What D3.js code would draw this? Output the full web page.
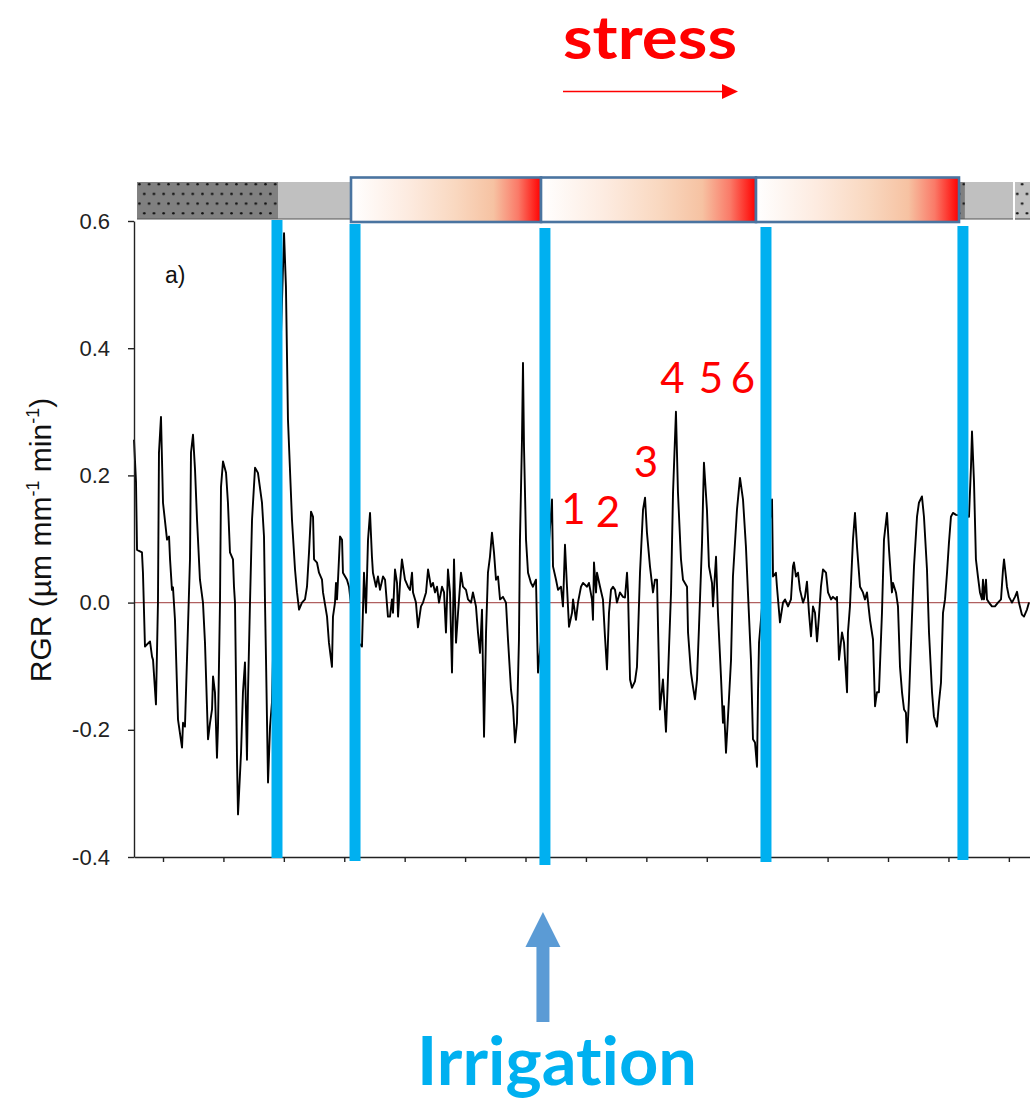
<!DOCTYPE html>
<html><head><meta charset="utf-8">
<script src="https://cdn.jsdelivr.net/npm/d3@7"></script>
<style>body{margin:0;background:#fff} text{font-variant-ligatures:none;font-feature-settings:"liga" 0}</style>
</head><body>
<svg id="chart" width="1030" height="1098"></svg>
<script>
// RGR time series: [hours, RGR (µm mm-1 min-1)]
const rgrSeries = [
[-2.88,0.256],[-2.68,0.189],[-2.58,0.083],[-2.09,0.079],[-1.99,0.047],[-1.79,-0.069],[-1.29,-0.061],[-1.09,-0.085],[-0.99,-0.090],[-0.70,-0.160],
[-0.50,0],[-0.40,0.236],[-0.20,0.292],[0,0.157],[0.40,0.099],[0.60,0.104],[0.70,0.068],[0.89,0.020],[0.99,0.024],[1.19,-0.027],
[1.49,-0.184],[1.89,-0.228],[1.99,-0.189],[2.18,-0.195],[2.48,-0.038],[2.68,0.068],[2.78,0.236],[2.98,0.264],[3.18,0.209],[3.38,0.130],
[3.67,0.036],[3.97,0],[4.17,-0.063],[4.47,-0.215],[4.67,-0.189],[4.87,-0.168],[4.97,-0.116],[5.16,-0.141],[5.36,-0.244],[5.46,-0.195],
[5.66,0],[5.76,0.182],[5.96,0.222],[6.26,0.204],[6.45,0.157],[6.65,0.079],[6.95,0.068],[7.05,0.025],[7.15,0],[7.35,-0.247],
[7.45,-0.333],[7.75,-0.236],[7.94,-0.141],[8.14,-0.094],[8.34,-0.247],[8.44,-0.141],[8.64,0],[8.84,0.130],[9.14,0.212],[9.43,0.204],
[9.83,0.157],[10.03,0.104],[10.13,0],[10.23,-0.090],[10.43,-0.283],[10.63,-0.195],[10.82,-0.157],[11.52,0.319],[12.02,0.581],[12.21,0.496],
[12.41,0.288],[12.81,0.130],[13.11,0.052],[13.31,0.016],[13.51,-0.011],[13.80,0],[14.10,0.005],[14.30,0.025],[14.50,0.079],[14.70,0.143],
[14.90,0.135],[15.00,0.068],[15.29,0.063],[15.49,0.047],[15.79,0.036],[15.89,0.016],[16.29,-0.022],[16.48,-0.063],[16.78,-0.101],[16.88,-0.022],
[17.08,0],[17.18,0.031],[17.28,0.005],[17.38,0.036],[17.58,0.104],[17.78,0.099],[17.87,0.047],[18.27,0.036],[18.47,0.025],[19.07,-0.058],
[19.76,-0.069],[19.96,0.047],[20.16,-0.016],[20.36,0.099],[20.56,0.141],[20.75,0.072],[20.85,0.047],[21.15,0.025],[21.35,0.041],[21.55,0.020],
[21.85,0.041],[22.05,0.036],[22.34,-0.022],[22.54,-0.022],[22.74,0.005],[22.84,-0.016],[23.04,0.052],[23.24,0.031],[23.34,-0.022],[23.54,0.031],
[23.73,0.068],[24.03,0.036],[24.33,0.025],[24.53,0.020],[24.73,0.047],[24.83,0.016],[25.12,0],[25.32,-0.039],[25.62,-0.006],[25.82,0],
[26.12,0.016],[26.32,0.052],[26.61,0.025],[26.81,0.031],[27.01,0.016],[27.21,0.025],[27.41,0],[27.71,0.025],[27.91,0.016],[28.10,-0.047],
[28.30,0.052],[28.50,0.016],[28.70,-0.110],[28.90,0.068],[29.10,-0.063],[29.30,-0.016],[29.59,0.047],[29.79,0.025],[30.09,0.020],[30.29,0.005],
[30.59,0],[30.78,0.016],[31.08,-0.006],[31.28,-0.047],[31.48,-0.079],[31.68,-0.011],[31.88,-0.211],[32.08,-0.047],[32.27,0.047],[32.47,0.072],
[32.67,0.110],[32.87,0.079],[33.07,0.036],[33.27,0.041],[33.47,0.005],[33.76,0.009],[34.06,0],[34.26,-0.058],[34.56,-0.137],[34.76,-0.163],
[34.96,-0.220],[35.15,-0.189],[35.35,-0.058],[35.45,0.099],[35.65,0.256],[35.75,0.377],[35.85,0.245],[36.05,0.099],[36.25,0.047],[36.54,0.031],
[36.74,0.025],[37.04,0.036],[37.24,-0.110],[37.93,0.005],[38.63,0.162],[38.73,0.057],[39.03,0.036],[39.23,0.020],[39.52,0.025],[39.72,-0.006],
[39.82,0.041],[39.92,0.091],[40.12,0.025],[40.32,-0.038],[40.62,-0.016],[40.72,0.005],[41.01,-0.027],[41.21,0],[41.51,0.025],[41.71,0.031],
[42.11,0.025],[42.30,0.031],[42.60,0.005],[42.70,-0.027],[42.80,0.063],[43.00,0.016],[43.10,0.047],[43.40,0.025],[43.69,0.005],[43.89,-0.053],
[44.09,-0.105],[44.29,-0.016],[44.49,0.020],[44.69,0.025],[44.89,0.020],[45.08,0],[45.38,0.016],[45.68,0.009],[45.88,0.008],[46.08,0.047],
[46.18,0.016],[46.38,-0.121],[46.57,-0.134],[46.87,-0.124],[47.07,-0.101],[47.37,0.047],[47.67,0.146],[47.87,0.165],[48.06,0.110],[48.36,0.057],
[48.66,0.016],[48.86,0.036],[49.06,0.036],[49.16,-0.038],[49.35,-0.168],[49.65,-0.121],[49.95,-0.203],[50.15,-0.116],[50.45,0.016],[50.65,0.173],
[50.94,0.300],[51.14,0.173],[51.44,0.068],[51.64,0.036],[52.04,0.025],[52.14,-0.047],[52.43,-0.110],[52.63,-0.132],[52.83,-0.152],[53.03,-0.121],
[53.23,-0.038],[53.53,0.094],[53.72,0.220],[54.02,0.146],[54.22,0.057],[54.52,0.031],[54.62,-0.006],[54.92,0.072],[55.11,-0.016],[55.41,-0.116],
[55.61,-0.189],[55.71,-0.163],[55.91,-0.236],[56.11,-0.179],[56.41,-0.090],[56.60,0.041],[57.00,0.146],[57.30,0.196],[57.60,0.162],[57.89,0.088],
[58.09,0.016],[58.39,-0.090],[58.59,-0.215],[58.79,-0.220],[58.99,-0.258],[59.09,-0.141],[59.19,-0.063],[59.89,0.068],[60.48,0.162],[60.58,0.041],
[60.87,0.047],[60.97,0.025],[61.27,-0.031],[61.57,0],[61.77,0.005],[62.07,-0.006],[62.36,0.005],[62.56,0.057],[62.66,0.063],[62.86,0.041],
[63.06,0.047],[63.26,0.020],[63.56,0],[63.75,0.009],[63.95,0.033],[64.15,-0.016],[64.35,-0.053],[64.55,-0.006],[64.75,-0.016],[64.95,-0.061],
[65.14,-0.022],[65.34,0.025],[65.54,0.052],[65.84,0.047],[66.04,0.016],[66.34,0.005],[66.53,0.009],[66.83,0.005],[66.93,0.009],[67.13,-0.090],
[67.43,-0.047],[67.63,-0.063],[67.93,-0.141],[68.02,-0.047],[68.22,-0.006],[68.52,0.099],[68.72,0.141],[68.92,0.088],[69.22,0.025],[69.51,0.016],
[69.71,0.005],[69.91,0.016],[70.21,-0.027],[70.51,-0.058],[70.71,-0.163],[70.90,-0.141],[71.10,-0.141],[71.40,-0.016],[71.60,0.099],[71.90,0.141],
[72.10,0.083],[72.39,0.016],[72.49,0.031],[72.79,0.016],[72.99,-0.006],[73.19,-0.101],[73.39,-0.141],[73.59,-0.168],[73.78,-0.173],[73.88,-0.220],
[74.08,-0.152],[74.38,-0.022],[74.58,0.057],[74.88,0.135],[75.07,0.157],[75.37,0.167],[75.57,0.135],[75.87,0.052],[76.07,-0.047],[76.37,-0.141],
[76.56,-0.179],[76.86,-0.195],[77.06,-0.157],[77.26,-0.126],[77.46,-0.016],[77.66,0.005],[77.86,0.047],[78.05,0.094],[78.25,0.135],[78.45,0.141],
[78.75,0.138],[79.44,0.137],[80.04,0.135],[80.24,0.214],[80.34,0.269],[80.54,0.189],[80.73,0.068],[80.93,0.041],[81.13,0.016],[81.33,0.005],
[81.43,0.036],[81.53,0.005],[81.73,0.036],[81.83,0.005],[82.03,0],[82.32,-0.006],[82.62,-0.006],[82.92,0],[83.22,0.005],[83.42,0.052],
[83.52,0.068],[83.71,0.041],[83.81,0.025],[84.01,0.009],[84.31,0],[84.61,0.009],[84.81,0.017],[85.00,0],[85.30,-0.019],[85.50,-0.022],
[85.80,-0.011],[86.00,0]
];
const irrigationTimes = [11.32, 19.07, 37.93, 59.88, 79.44];
const barSegments = [
  {start:-2.58, end:11.42, kind:"darkDots"},
  {start:11.42, end:18.67, kind:"light"},
  {start:79.05, end:79.64, kind:"darkDots"},
  {start:79.64, end:84.41, kind:"light"},
  {start:84.61, end:86.10, kind:"lightDots"}
];
const stressPeriods = [[18.67, 37.54], [37.54, 58.89], [58.89, 79.05]];
const yTicks = [-0.4, -0.2, 0.0, 0.2, 0.4, 0.6];
const xTicks = [0, 6, 12, 18, 24, 30, 36, 42, 48, 54, 60, 66, 72, 78, 84];
const peakLabels = [
  {label:"1", t:40.77, v:0.123}, {label:"2", t:44.19, v:0.119}, {label:"3", t:47.96, v:0.198},
  {label:"4", t:50.60, v:0.330}, {label:"5", t:54.42, v:0.330}, {label:"6", t:57.60, v:0.330}
];
const panelLabel = {text:"a)", t:0.2, v:0.503};

const svg = d3.select("#chart");
const x = d3.scaleLinear().domain([-2.88, 86.10]).range([134, 1030]);
const y = d3.scaleLinear().domain([-0.4, 0.6]).range([857, 221]);

const defs = svg.append("defs");
const grad = defs.append("linearGradient").attr("id","stressGrad").attr("x1","0%").attr("x2","100%");
[[0,"#ffffff"],[0.3,"#fdebe0"],[0.55,"#f9d8c0"],[0.75,"#f6c2a2"],[0.88,"#fa7a68"],[1,"#ff0000"]]
  .forEach(([o,c]) => grad.append("stop").attr("offset", o).attr("stop-color", c));
function dotPattern(id, bg){
  const p = defs.append("pattern").attr("id", id).attr("patternUnits","userSpaceOnUse")
    .attr("width", 9.7).attr("height", 19.4).attr("x", 137).attr("y", 182);
  p.append("rect").attr("width", 9.7).attr("height", 19.4).attr("fill", bg);
  p.append("circle").attr("cx", 2.4).attr("cy", 2.2).attr("r", 1.3).attr("fill", "#111");
  p.append("circle").attr("cx", 7.25).attr("cy", 11.9).attr("r", 1.3).attr("fill", "#111");
}
dotPattern("darkDots", "#808080");
dotPattern("lightDots", "#c0c0c0");

// zero line
svg.append("line").attr("x1", x.range()[0]).attr("x2", x.range()[1])
  .attr("y1", y(0)).attr("y2", y(0)).attr("stroke", "#b06060").attr("stroke-width", 1.2);

// series
svg.append("path").datum(rgrSeries)
  .attr("fill","none").attr("stroke","#000").attr("stroke-width",1.9).attr("stroke-linejoin","round")
  .attr("d", d3.line().x(d => x(d[0])).y(d => y(d[1])));

// axes
const fmt = d => d3.format(".1f")(d).replace("\u2212", "-");
const yAxis = svg.append("g").attr("transform", `translate(${x.range()[0]},0)`)
  .call(d3.axisLeft(y).tickValues(yTicks).tickFormat(fmt).tickSize(6).tickSizeOuter(0).tickPadding(18));
yAxis.attr("font-size", null).attr("font-family", null);
yAxis.selectAll("text").attr("font-family","Liberation Sans, Arial, sans-serif").attr("font-size",22).attr("fill","#222");
yAxis.selectAll("line,path").attr("stroke","#222").attr("stroke-width",1.4);
const xAxis = svg.append("g").attr("transform", `translate(0,${y.range()[0]})`)
  .call(d3.axisBottom(x).tickValues(xTicks).tickFormat("").tickSize(5).tickSizeOuter(0));
xAxis.selectAll("line,path").attr("stroke","#222").attr("stroke-width",1.4);

// irrigation lines
const topOff = [-1, 3, 7, 6, 5], botOff = [1, 4, 8, 5, 3];
svg.append("g").selectAll("line").data(irrigationTimes).join("line")
  .attr("x1", d => x(d)).attr("x2", d => x(d))
  .attr("y1", (d,i) => y(0.6) + topOff[i]).attr("y2", (d,i) => y(-0.4) + botOff[i])
  .attr("stroke", "#00b0f0").attr("stroke-width", 11);

// top bar
const barG = svg.append("g");
barG.selectAll("rect.seg").data(barSegments).join("rect").attr("class","seg")
  .attr("x", d => x(d.start)).attr("width", d => x(d.end) - x(d.start))
  .attr("y", 182).attr("height", 37)
  .attr("fill", d => d.kind === "light" ? "#c0c0c0" : `url(#${d.kind})`);
barG.append("line").attr("x1", x(-2.58)).attr("x2", x(84.41)).attr("y1", 219).attr("y2", 219)
  .attr("stroke", "#555").attr("stroke-width", 1.2);
barG.append("line").attr("x1", x(84.61)).attr("x2", x.range()[1]).attr("y1", 219).attr("y2", 219)
  .attr("stroke", "#555").attr("stroke-width", 1.2);
barG.selectAll("rect.stress").data(stressPeriods).join("rect").attr("class","stress")
  .attr("x", d => x(d[0])).attr("width", d => x(d[1]) - x(d[0]))
  .attr("y", 177.5).attr("height", 44.5)
  .attr("fill", "url(#stressGrad)").attr("stroke", "#4a74a0").attr("stroke-width", 2.6);

// panel label
svg.append("text").attr("x", x(panelLabel.t)).attr("y", y(panelLabel.v))
  .attr("font-family","Liberation Sans, Arial, sans-serif").attr("font-size",23).attr("fill","#111")
  .text(panelLabel.text);

// y-axis title
const yt = svg.append("text").attr("transform", `translate(51,${(y(0.6)+y(-0.4))/2 + 1}) rotate(-90)`)
  .attr("text-anchor","middle").attr("font-family","Liberation Sans, Arial, sans-serif")
  .attr("font-size",30).attr("fill","#111");
yt.append("tspan").text("RGR (\u00b5m mm");
yt.append("tspan").attr("dy",-12).attr("font-size",18).text("-1");
yt.append("tspan").attr("dy",12).text(" min");
yt.append("tspan").attr("dy",-12).attr("font-size",18).text("-1");
yt.append("tspan").attr("dy",12).text(")");

// peak numbers
svg.append("g").selectAll("text").data(peakLabels).join("text")
  .attr("x", d => x(d.t)).attr("y", d => y(d.v)).attr("text-anchor","middle")
  .attr("font-family","Lato, sans-serif").attr("font-size",42).attr("fill","#ff0000")
  .text(d => d.label);

// stress annotation
svg.append("text").attr("x", 650).attr("y", 59).attr("text-anchor","middle")
  .attr("font-family","Lato, sans-serif").attr("font-weight","bold").attr("font-size",59)
  .attr("fill","#ff0000").attr("textLength",174).attr("lengthAdjust","spacingAndGlyphs").text("stress");
svg.append("line").attr("x1",563).attr("x2",724).attr("y1",91.5).attr("y2",91.5)
  .attr("stroke","#ff0000").attr("stroke-width",1.6);
svg.append("path").attr("d","M722,84 L738,91.5 L722,99 Z").attr("fill","#ff0000");

// irrigation arrow + label
const ax = x(irrigationTimes[2]) - 2;
svg.append("rect").attr("x", ax - 6.5).attr("y", 945).attr("width", 13).attr("height", 77).attr("fill","#5b9bd5");
svg.append("path").attr("d", `M${ax-17.5},947 L${ax},912 L${ax+17.5},947 Z`).attr("fill","#5b9bd5");
svg.append("text").attr("x", 557).attr("y", 1085).attr("text-anchor","middle")
  .attr("font-family","Lato, sans-serif").attr("font-weight","bold").attr("font-size",67)
  .attr("fill","#00b0f0").attr("textLength",280).attr("lengthAdjust","spacingAndGlyphs").text("Irrigation");
</script>
</body></html>
